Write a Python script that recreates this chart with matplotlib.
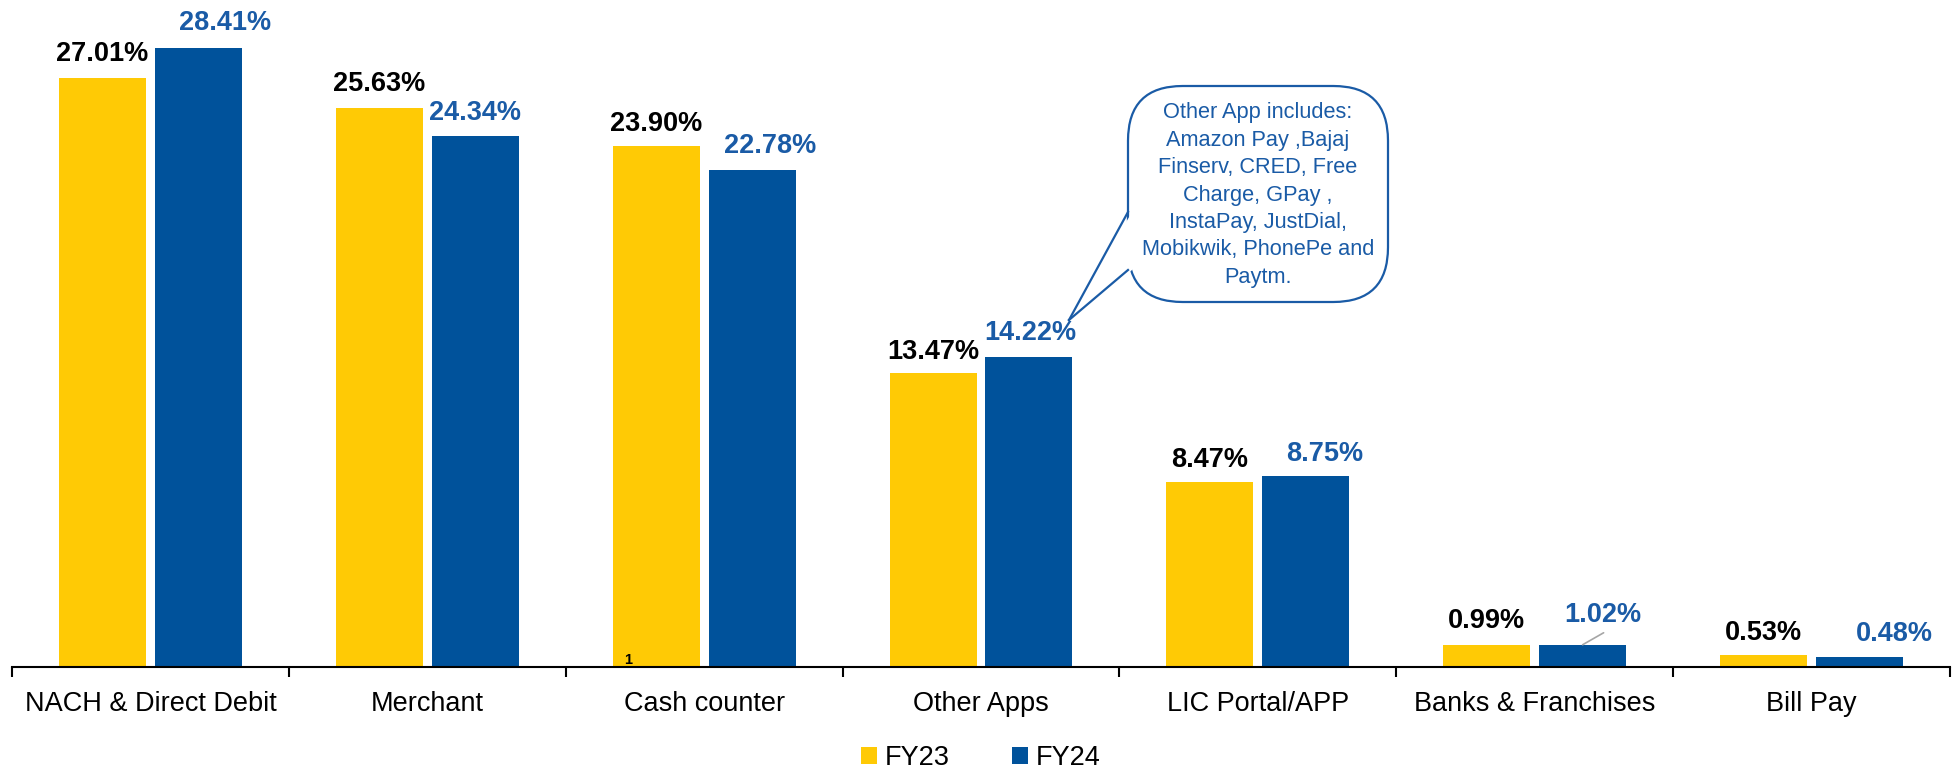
import matplotlib
matplotlib.use("Agg")
import matplotlib.pyplot as plt
from matplotlib.patches import FancyBboxPatch, Polygon, Patch
from matplotlib.lines import Line2D
import numpy as np

plt.rcParams['font.family'] = ['Liberation Sans', 'DejaVu Sans']

categories = ["NACH & Direct Debit", "Merchant", "Cash counter", "Other Apps",
              "LIC Portal/APP", "Banks & Franchises", "Bill Pay"]
fy23 = [27.01, 25.63, 23.90, 13.47, 8.47, 0.99, 0.53]
fy24 = [28.41, 24.34, 22.78, 14.22, 8.75, 1.02, 0.48]
series_names = ["FY23", "FY24"]
callout_text = ("Other App includes:\nAmazon Pay ,Bajaj\nFinserv, CRED, Free\n"
                "Charge, GPay ,\nInstaPay, JustDial,\nMobikwik, PhonePe and\nPaytm.")

YELLOW = "#FFCA05"
BLUE = "#00529B"
LBLUE = "#1A5BA6"

W, H = 1953, 770
fig = plt.figure(figsize=(W / 100, H / 100), dpi=100)
ax = fig.add_axes([12 / W, 103 / H, (1950 - 12) / W, 667 / H])

x = np.arange(len(categories))
off = 0.173
bw = 0.314
ax.bar(x - off, fy23, bw, color=YELLOW, zorder=2)
ax.bar(x + off, fy24, bw, color=BLUE, zorder=2)

ax.set_xlim(-0.5, len(categories) - 0.5)
ax.set_ylim(0, 30.6)
for s in ["top", "right", "left"]:
    ax.spines[s].set_visible(False)
ax.spines["bottom"].set_linewidth(1.5)
ax.set_yticks([])
ax.set_xticks(np.arange(len(categories) + 1) - 0.5)
ax.set_xticklabels([])
ax.tick_params(axis="x", which="major", length=7, width=1.5, direction="out")
ax.set_xticks(x, minor=True)
ax.set_xticklabels(categories, minor=True, fontsize=19.5)
ax.tick_params(axis="x", which="minor", length=0, pad=17)

px = 72 / 100  # points per pixel
# data labels
blue_dx = [27, 0, 18, 1, 19, 20, 35]
blue_dy = [25, 23, 24, 24, 22, 30, 23]
yel_dy = [24, 24, 22, 21, 22, 24, 22]
for i in range(len(categories)):
    ax.annotate(f"{fy23[i]:.2f}%", xy=(x[i] - off, fy23[i]), xytext=(0, yel_dy[i] * px),
                textcoords="offset points", ha="center", va="center",
                fontsize=19.5, fontweight="bold", color="black", zorder=5)
    ax.annotate(f"{fy24[i]:.2f}%", xy=(x[i] + off, fy24[i]), xytext=(blue_dx[i] * px, blue_dy[i] * px),
                textcoords="offset points", ha="center", va="center",
                fontsize=19.5, fontweight="bold", color=LBLUE, zorder=5)

# leader line for Banks & Franchises FY24
ax.annotate("", xy=(x[5] + off, fy24[5]), xytext=(21 * px, 12 * px), textcoords="offset points",
            arrowprops=dict(arrowstyle="-", color="#A6A6A6", lw=1.2, shrinkA=0, shrinkB=0))

# stray "1" near Cash counter
ax.annotate("1", xy=(x[2] - off - bw / 2, 0), xytext=(15 * px, 0), textcoords="offset points",
            ha="center", va="bottom", fontsize=10.5, fontweight="bold", color="black", zorder=5)

# callout (figure pixel coordinates)
def fx(p):
    return p / W

def fy(p):
    return 1 - p / H

bx0, bx1, by0, by1 = 1128, 1388, 86, 302
box = FancyBboxPatch((fx(bx0), fy(by1)), fx(bx1) - fx(bx0), fy(by0) - fy(by1),
                     boxstyle="round,pad=0,rounding_size=0.028", transform=fig.transFigure,
                     facecolor="white", edgecolor=LBLUE, lw=1.6, zorder=10,
                     mutation_aspect=W / H)
fig.add_artist(box)
tip = (1069, 320)
b1 = (1128, 212)
b2 = (1128, 270)
poly = Polygon([(fx(b1[0] + 4), fy(b1[1])), (fx(tip[0]), fy(tip[1])), (fx(b2[0] + 4), fy(b2[1]))],
               closed=True, transform=fig.transFigure, facecolor="white", edgecolor="none", zorder=11)
fig.add_artist(poly)
for b in (b1, b2):
    fig.add_artist(Line2D([fx(b[0]), fx(tip[0])], [fy(b[1]), fy(tip[1])], transform=fig.transFigure,
                          color=LBLUE, lw=1.6, zorder=12))
fig.text(fx((bx0 + bx1) / 2), fy(195), callout_text, ha="center", va="center", fontsize=15.7,
         color=LBLUE, linespacing=1.40, zorder=13)

handles = [Patch(facecolor=YELLOW, edgecolor="none"), Patch(facecolor=BLUE, edgecolor="none")]
fig.legend(handles, series_names, loc="center", bbox_to_anchor=(981 / W, 1 - 758 / H), ncol=2,
           frameon=False, fontsize=19.5, handlelength=0.57, handleheight=0.57, handletextpad=0.3,
           columnspacing=2.3, borderpad=0)

fig.savefig("out.png", dpi=100)
